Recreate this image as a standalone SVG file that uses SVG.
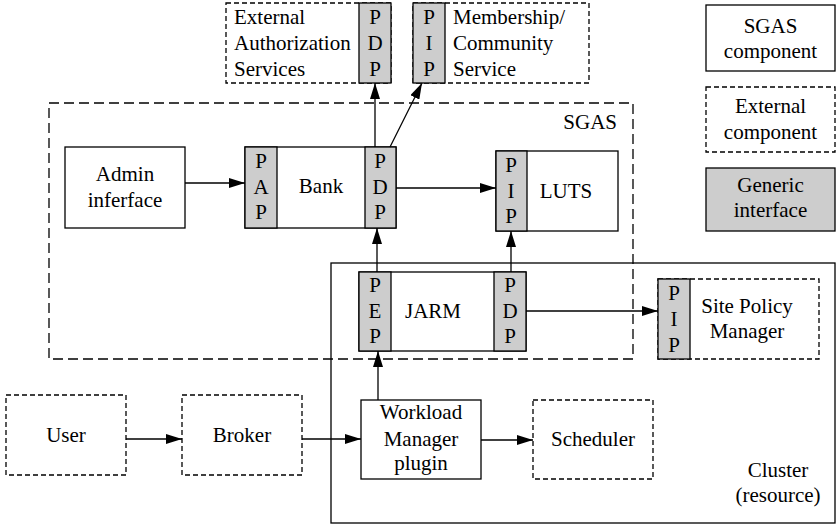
<svg xmlns="http://www.w3.org/2000/svg" width="837" height="524" viewBox="0 0 837 524" font-family="'Liberation Serif', 'DejaVu Serif', 'Times New Roman', Times, serif">
<style>
text{font-family:'Liberation Serif','DejaVu Serif','Times New Roman',Times,serif;font-size:21px;fill:#000}
.c{text-anchor:middle}
.s{fill:#fff;stroke:#000;stroke-width:1.3}
.e{fill:#fff;stroke:#000;stroke-width:1.3;stroke-dasharray:5,3}
.i{fill:#cdcdcd;stroke:#000;stroke-width:1.3}
.g{fill:none;stroke:#000;stroke-width:1.3;stroke-dasharray:10,5}
.cl{fill:none;stroke:#000;stroke-width:1.3}
.a{fill:none;stroke:#000;stroke-width:1.3;marker-end:url(#ah)}
</style>
<defs>
<marker id="ah" markerUnits="userSpaceOnUse" markerWidth="16" markerHeight="10" refX="16" refY="5" orient="auto">
<path d="M0,0 L16,5 L0,10 z" fill="#000"/>
</marker>
</defs>

<g id="sgas-group">
<rect class="g" x="49" y="103" width="584" height="256"/>
<text x="617" y="129" text-anchor="end">SGAS</text>
</g>
<g id="cluster-group">
<rect class="cl" x="331" y="263" width="504" height="260"/>
<text class="c" x="778" y="477">Cluster</text>
<text class="c" x="778" y="502">(resource)</text>
</g>

<g id="ext-auth">
<rect class="e" x="226" y="3" width="165" height="80"/>
<rect class="i" x="359" y="3" width="32" height="80"/>
<text x="234" y="24">External</text>
<text x="234" y="50">Authorization</text>
<text x="234" y="76">Services</text>
<text class="c" x="375" y="24">P</text>
<text class="c" x="375" y="50">D</text>
<text class="c" x="375" y="76">P</text>
</g>

<g id="membership">
<rect class="e" x="413" y="3" width="176" height="80"/>
<rect class="i" x="413" y="3" width="32" height="80"/>
<text class="c" x="429" y="24">P</text>
<text class="c" x="429" y="50">I</text>
<text class="c" x="429" y="76">P</text>
<text x="453" y="24">Membership/</text>
<text x="453" y="50">Community</text>
<text x="453" y="76">Service</text>
</g>

<g id="admin">
<rect class="s" x="65" y="147" width="120" height="81"/>
<text class="c" x="125" y="181">Admin</text>
<text class="c" x="125" y="207">inferface</text>
</g>

<g id="bank">
<rect class="s" x="245" y="147" width="151" height="81"/>
<rect class="i" x="245" y="147" width="32" height="81"/>
<rect class="i" x="365" y="147" width="31" height="81"/>
<text class="c" x="261" y="168">P</text>
<text class="c" x="261" y="194">A</text>
<text class="c" x="261" y="219">P</text>
<text class="c" x="321" y="193">Bank</text>
<text class="c" x="380" y="168">P</text>
<text class="c" x="380" y="194">D</text>
<text class="c" x="380" y="219">P</text>
</g>

<g id="luts">
<rect class="s" x="496" y="151" width="122" height="80"/>
<rect class="i" x="496" y="151" width="31" height="80"/>
<text class="c" x="511" y="172">P</text>
<text class="c" x="511" y="198">I</text>
<text class="c" x="511" y="223">P</text>
<text class="c" x="566" y="198">LUTS</text>
</g>

<g id="jarm">
<rect class="s" x="359" y="272" width="167" height="79"/>
<rect class="i" x="359" y="272" width="32" height="79"/>
<rect class="i" x="494" y="272" width="32" height="79"/>
<text class="c" x="375" y="292">P</text>
<text class="c" x="375" y="318">E</text>
<text class="c" x="375" y="343">P</text>
<text class="c" x="433" y="318">JARM</text>
<text class="c" x="510" y="292">P</text>
<text class="c" x="510" y="318">D</text>
<text class="c" x="510" y="343">P</text>
</g>

<g id="site-policy">
<rect class="e" x="658" y="279" width="161" height="80"/>
<rect class="i" x="658" y="279" width="32" height="80"/>
<text class="c" x="674" y="300">P</text>
<text class="c" x="674" y="326">I</text>
<text class="c" x="674" y="352">P</text>
<text class="c" x="747" y="313">Site Policy</text>
<text class="c" x="747" y="338">Manager</text>
</g>

<g id="workload">
<rect class="s" x="361" y="400" width="120" height="79"/>
<text class="c" x="421" y="419">Workload</text>
<text class="c" x="421" y="446">Manager</text>
<text class="c" x="421" y="470">plugin</text>
</g>

<g id="scheduler">
<rect class="e" x="533" y="400" width="120" height="79"/>
<text class="c" x="593" y="446">Scheduler</text>
</g>

<g id="user">
<rect class="e" x="6" y="395" width="120" height="80"/>
<text class="c" x="66" y="442">User</text>
</g>

<g id="broker">
<rect class="e" x="182" y="395" width="120" height="80"/>
<text class="c" x="242" y="442">Broker</text>
</g>

<g id="legend-sgas">
<rect class="s" x="706" y="5" width="129" height="66"/>
<text class="c" x="770.5" y="33">SGAS</text>
<text class="c" x="770.5" y="58">component</text>
</g>
<g id="legend-external">
<rect class="e" x="706" y="87" width="129" height="65"/>
<text class="c" x="770.5" y="113">External</text>
<text class="c" x="770.5" y="139">component</text>
</g>
<g id="legend-generic">
<rect class="i" x="706" y="168" width="129" height="63"/>
<text class="c" x="770.5" y="192">Generic</text>
<text class="c" x="770.5" y="217">interface</text>
</g>

<g id="connectors">
<line class="a" x1="375" y1="147" x2="375" y2="83"/>
<line class="a" x1="390" y1="147" x2="422" y2="83"/>
<line class="a" x1="185" y1="183" x2="245" y2="183"/>
<line class="a" x1="396" y1="188" x2="496" y2="188"/>
<line class="a" x1="377" y1="272" x2="377" y2="228"/>
<line class="a" x1="511" y1="272" x2="511" y2="231"/>
<line class="a" x1="526" y1="311" x2="658" y2="311"/>
<line class="a" x1="378" y1="400" x2="378" y2="351"/>
<line class="a" x1="481" y1="440" x2="533" y2="440"/>
<line class="a" x1="126" y1="439" x2="182" y2="439"/>
<line class="a" x1="302" y1="439" x2="361" y2="439"/>
</g>
</svg>
